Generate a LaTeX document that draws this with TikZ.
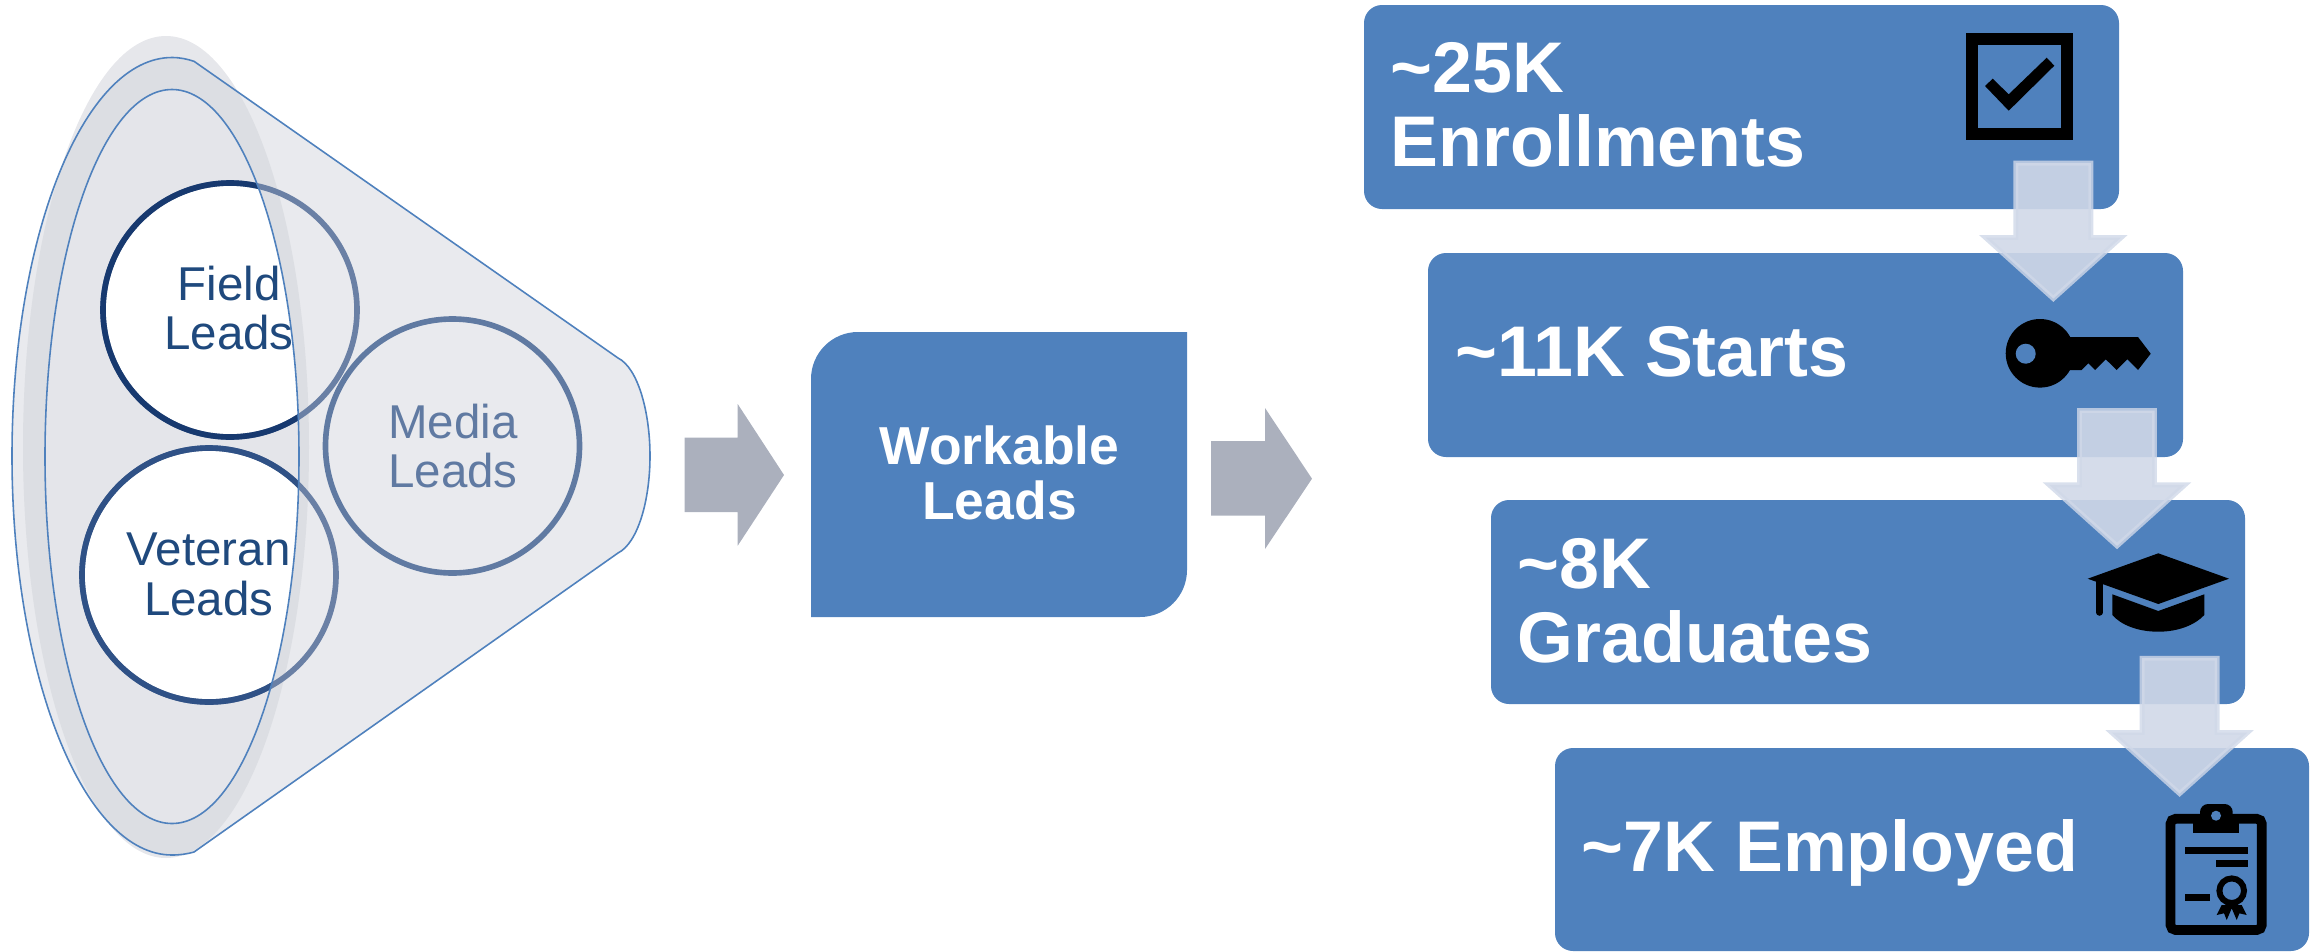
\documentclass[tikz,border=0pt]{standalone}
\usepackage{fontspec}
\setmainfont{Liberation Sans}
\definecolor{stageblue}{HTML}{4F81BD}
\definecolor{funnelgray}{HTML}{E9EAEE}
\definecolor{blobgray}{HTML}{E6E7EB}
\definecolor{blobdark}{HTML}{DCDEE3}
\definecolor{mouthgray}{HTML}{E4E5EA}
\definecolor{blockgray}{HTML}{ABB0BD}
\definecolor{flowpale}{HTML}{D0D8E8}
\definecolor{fieldnavy}{HTML}{17396F}
\definecolor{veterannavy}{HTML}{2F5186}
\definecolor{leadnavy}{HTML}{1F497D}
\definecolor{mediaslate}{HTML}{607AA2}
\definecolor{ringslate}{HTML}{6A80A5}
\tikzset{
	leadtext/.style={inner sep=0pt, align=center, font=\fontsize{13.5}{14.2}\selectfont},
	stagetext/.style={inner sep=0pt, align=left, anchor=west, text=white, font=\fontsize{20.4}{21.2}\selectfont\bfseries},
	stagebox/.style={fill=stageblue, rounded corners=0.18cm},
	blockarrow/.style={fill=blockgray},
	flowdown/.style={fill=flowpale, fill opacity=0.9, draw=flowpale, draw opacity=0.8, line width=1.4pt, miter limit=10},
	leadring/.style={line width=1.6pt},
	funnelline/.style={draw=stageblue, line width=0.45pt},
	icon/.style={fill=black}
}
\newcommand{\funnelpath}{(194,61.3) .. controls (187,59) and (180,57.5) .. (172,57.5) .. controls (83.6,57.5) and (12,236) .. (12,456) .. controls (12,676) and (83.6,855) .. (172,855) .. controls (180,855) and (187,854) .. (194,852) -- (618,553) .. controls (638,543) and (650,500) .. (650,456) .. controls (650,412) and (638,368) .. (618,358) -- cycle}
\begin{document}
\begin{tikzpicture}[x=0.01cm, y=-0.01cm]
	\useasboundingbox (0,0) rectangle (2318,951);

	\fill[blobgray] (166,447) ellipse [x radius=143, y radius=411];
	\fill[funnelgray] \funnelpath;
	\begin{scope}
		\clip \funnelpath;
		\fill[blobdark] (166,447) ellipse [x radius=143, y radius=411];
	\end{scope}
	\fill[mouthgray] (172,456.5) ellipse [x radius=127, y radius=367];
	\begin{scope}
		\clip (172,456.5) ellipse [x radius=127, y radius=367];
		\fill[white] (230,310) circle [radius=128];
		\fill[white] (209,575) circle [radius=128];
	\end{scope}
	\draw[leadring, ringslate] (230,310) circle [radius=127];
	\draw[leadring, ringslate] (209,575) circle [radius=127];
	\draw[leadring, mediaslate] (452.5,446) circle [radius=127];
	\begin{scope}
		\clip (172,456.5) ellipse [x radius=127, y radius=367];
		\draw[leadring, fieldnavy] (230,310) circle [radius=127];
		\draw[leadring, veterannavy] (209,575) circle [radius=127];
	\end{scope}
	\draw[funnelline] \funnelpath;
	\draw[funnelline] (172,456.5) ellipse [x radius=127, y radius=367];
	\node[leadtext, text=leadnavy] (fieldtext) at (229,308) {Field\\Leads};
	\node[leadtext, text=leadnavy] (veterantext) at (208.7,574) {Veteran\\Leads};
	\node[leadtext, text=mediaslate] (mediatext) at (453,446) {Media\\Leads};

	\fill[blockarrow] (684.5,437.7) -- (737.7,437.7) -- (737.7,404) -- (784,475) -- (737.7,545.7) -- (737.7,512) -- (684.5,512) -- cycle;
	\fill[blockarrow] (1211,441) -- (1265,441) -- (1265,408) -- (1312,478.7) -- (1265,549) -- (1265,515.7) -- (1211,515.7) -- cycle;

	\fill[stageblue] (811,617) -- (811,379) .. controls (811,353) and (832,332) .. (858,332) -- (1187,332) -- (1187,570) .. controls (1187,596) and (1166,617) .. (1140,617) -- cycle;
	\node[inner sep=0pt, align=center, text=white, font=\fontsize{15.2}{15.6}\selectfont\bfseries] (workable) at (999.5,472.5) {Workable\\Leads};

	\fill[stagebox] (1364,5) rectangle (2119,209);
	\fill[stagebox] (1428,253) rectangle (2183,457);
	\fill[stagebox] (1491,500) rectangle (2245,704);
	\fill[stagebox] (1555,748) rectangle (2309,951);

	\node[stagetext] (enroll) at (1390,105) {\textasciitilde25K\\Enrollments};
	\node[stagetext] (starts) at (1455,352) {\textasciitilde11K Starts};
	\node[stagetext] (grads) at (1517,601) {\textasciitilde8K\\Graduates};
	\node[stagetext] (employed) at (1581,853) {\textasciitilde7K Employed};

	\draw[line width=3.33pt] (1971.8,39.2) rectangle (2067.2,134.3);
	\fill[icon] (1985,86) -- (1992.7,78.7) -- (2008.7,94.3) -- (2046.7,57.7) -- (2054.3,65.7) -- (2008.7,110.7) -- cycle;

	\fill[icon] (2040,353.3) circle [radius=34.3];
	\fill[icon] (2060,337) -- (2138,337) -- (2150.7,353.7) -- (2138,370) -- (2127.3,359.3) -- (2116.7,370) -- (2105.7,359.3) -- (2095,370) -- (2088.3,363.3) -- (2081.7,370) -- (2060,370) -- cycle;
	\fill[stageblue] (2025.7,353.7) circle [radius=10];

	\fill[icon] (2158.3,553.3) -- (2229,578.7) -- (2158.3,604) -- (2087.7,578.7) -- cycle;
	\draw[line width=1.85pt, line cap=round] (2099.5,582) -- (2099.5,612.5);
	\fill[icon] (2112.3,594.3) -- (2158.3,611) -- (2204.3,594.3) -- (2204.3,615) .. controls (2195,625) and (2178,631.7) .. (2158.3,631.7) .. controls (2138,631.7) and (2121,625) .. (2112.3,615) -- cycle;

	\draw[line width=2.76pt, rounded corners=0.05cm] (2170.5,818.8) rectangle (2261.8,930);
	\fill[icon] (2193.3,814) rectangle (2239,833.3);
	\fill[icon, rounded corners=0.08cm] (2200,825) rectangle (2232.7,804);
	\fill[stageblue] (2216,815.7) circle [radius=5];
	\fill[icon] (2185,847) rectangle (2247.7,854);
	\fill[icon] (2216,860) rectangle (2247.7,867);
	\fill[icon] (2185,894) rectangle (2210,901);
	\draw[line width=1.7pt] (2231.7,890.7) circle [radius=12.3];
	\fill[icon] (2221.7,905) -- (2216.7,915) -- (2224,913.3) -- (2226.7,920) -- (2231.7,908.3) -- (2236.7,920) -- (2239.4,913.3) -- (2246.7,915) -- (2241.7,905) -- cycle;

	\foreach \x/\y in {2053.3/160.7, 2117/408, 2179.6/655.7} {
		\draw[flowdown, shift={(\x,\y)}] (-37.5,2.5) -- (37.5,2.5) -- (37.5,76.8) -- (67.9,76.8) -- (0,137.9) -- (-67.9,76.8) -- (-37.5,76.8) -- cycle;
	}
\end{tikzpicture}
\end{document}
